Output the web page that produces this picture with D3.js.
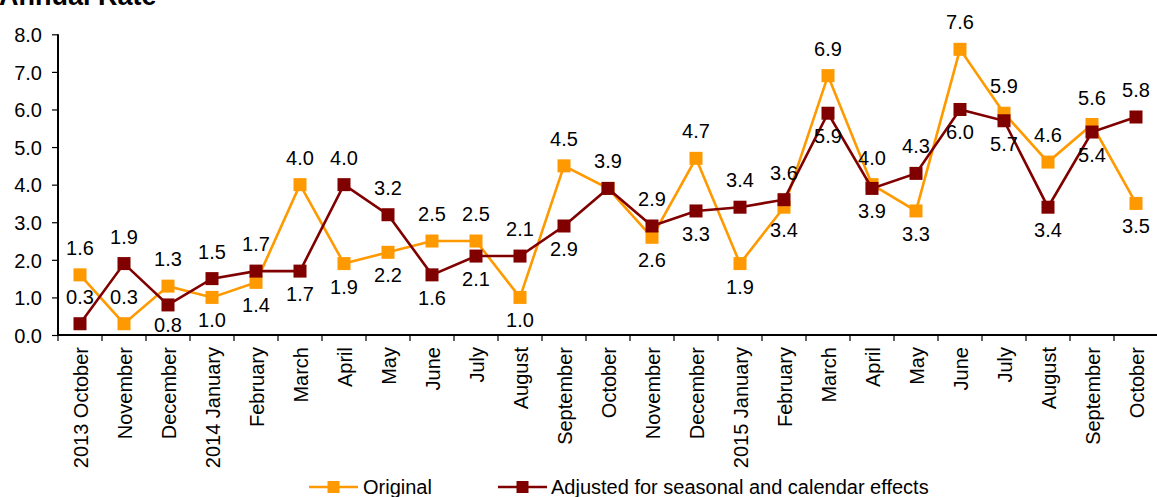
<!DOCTYPE html>
<html><head><meta charset="utf-8">
<script src="https://cdn.jsdelivr.net/npm/d3@7"></script>
<style>
html,body{margin:0;padding:0;background:#fff;}
svg text{font-family:Arial,"Liberation Sans",sans-serif;fill:#000;}
</style></head><body>
<svg id="c" width="1157" height="497"></svg>
<script>
const categories = ["2013 October","November","December","2014 January","February","March","April","May","June","July","August","September","October","November","December","2015 January","February","March","April","May","June","July","August","September","October"];
const original = [1.6,0.3,1.3,1.0,1.4,4.0,1.9,2.2,2.5,2.5,1.0,4.5,3.9,2.6,4.7,1.9,3.4,6.9,4.0,3.3,7.6,5.9,4.6,5.6,3.5];
const adjusted = [0.3,1.9,0.8,1.5,1.7,1.7,4.0,3.2,1.6,2.1,2.1,2.9,3.9,2.9,3.3,3.4,3.6,5.9,3.9,4.3,6.0,5.7,3.4,5.4,5.8];
const yTicks = [0,1,2,3,4,5,6,7,8];
const seriesNames = ["Original","Adjusted for seasonal and calendar effects"];
// label placement: 1 above, -1 below, 0 hidden
const origPlace = [1,1,1,-1,-1,1,-1,-1,1,1,-1,1,0,-1,1,-1,-1,1,1,-1,1,1,1,1,-1];
const adjPlace  = [1,1,-1,1,1,-1,1,1,-1,-1,1,-1,1,1,-1,1,1,-1,-1,1,-1,-1,-1,-1,1];

(function(){
const svg = d3.select("#c");
const pL = 58, pR = 1158, pT = 34.3, pB = 335;
const x = d3.scaleBand().domain(d3.range(categories.length)).range([pL, pR]).paddingInner(0).paddingOuter(0);
const cx = i => x(i) + x.bandwidth()/2;
const y = d3.scaleLinear().domain([0,8]).range([pB, pT]);

// title
svg.append("text").attr("x",-1).attr("y",5).style("font-size","27px").style("font-weight","bold").text("Annual Rate");

// y axis
const yAxis = svg.append("g").attr("transform",`translate(${pL},0)`)
  .call(d3.axisLeft(y).tickValues(yTicks).tickFormat(d3.format(".1f")).tickSize(6).tickPadding(10));
yAxis.select(".domain").attr("stroke","#000").attr("stroke-width",2).attr("d",`M0,${pT}V${pB}`);
yAxis.selectAll(".tick line").attr("stroke","#000").attr("stroke-width",1.2);
yAxis.selectAll("text").style("font-size","20px").attr("dy","0.36em");

// x axis
const xb = d3.scaleLinear().domain([0,categories.length]).range([pL,pR]);
const xg = svg.append("g");
xg.append("line").attr("x1",pL).attr("x2",pR).attr("y1",pB).attr("y2",pB).attr("stroke","#000").attr("stroke-width",2);
xg.selectAll("line.t").data(d3.range(categories.length+1)).join("line").attr("class","t")
  .attr("x1",d=>xb(d)).attr("x2",d=>xb(d)).attr("y1",pB).attr("y2",pB+6).attr("stroke","#000").attr("stroke-width",1.2);
xg.selectAll("text").data(categories).join("text")
  .attr("transform",(d,i)=>`translate(${cx(i)+0.5},${pB+12}) rotate(-90)`)
  .attr("text-anchor","end").attr("dy","0.36em").style("font-size","20px").text(d=>d);

const colors = ["#FF9900","#800000"];
const line = d3.line().x((d,i)=>cx(i)).y(d=>y(d));
function drawSeries(vals, color){
  const g = svg.append("g");
  g.append("path").datum(vals).attr("d",line).attr("fill","none").attr("stroke",color).attr("stroke-width",2.6).attr("stroke-linejoin","miter");
  g.selectAll("rect").data(vals).join("rect")
    .attr("x",(d,i)=>cx(i)-6.5).attr("y",d=>y(d)-6.5).attr("width",13).attr("height",13).attr("fill",color);
}
function drawLabels(vals, place){
  const items = vals.map((v,i)=>({v, i, p:place[i]})).filter(d=>d.p!==0);
  svg.append("g").selectAll("text").data(items).join("text")
    .attr("x",d=>cx(d.i)).attr("y",d=>d.p>0 ? y(d.v)-20 : Math.min(y(d.v)+30, pB-3))
    .attr("text-anchor","middle").style("font-size","20px").text(d=>d3.format(".1f")(d.v));
}
drawSeries(original, colors[0]);
drawSeries(adjusted, colors[1]);
drawLabels(original, origPlace);
drawLabels(adjusted, adjPlace);

// legend
const legend = [
  {name:seriesNames[0], color:colors[0], x0:309, x1:358, tx:363},
  {name:seriesNames[1], color:colors[1], x0:498, x1:547, tx:551}
];
const ly = 487;
const lg = svg.append("g");
legend.forEach(l=>{
  lg.append("line").attr("x1",l.x0).attr("x2",l.x1).attr("y1",ly).attr("y2",ly).attr("stroke",l.color).attr("stroke-width",2.6);
  lg.append("rect").attr("x",(l.x0+l.x1)/2-6).attr("y",ly-6).attr("width",12).attr("height",12).attr("fill",l.color);
  lg.append("text").attr("x",l.tx).attr("y",ly).attr("dy","0.36em").style("font-size","20px").text(l.name);
});
})();
</script>
</body></html>
